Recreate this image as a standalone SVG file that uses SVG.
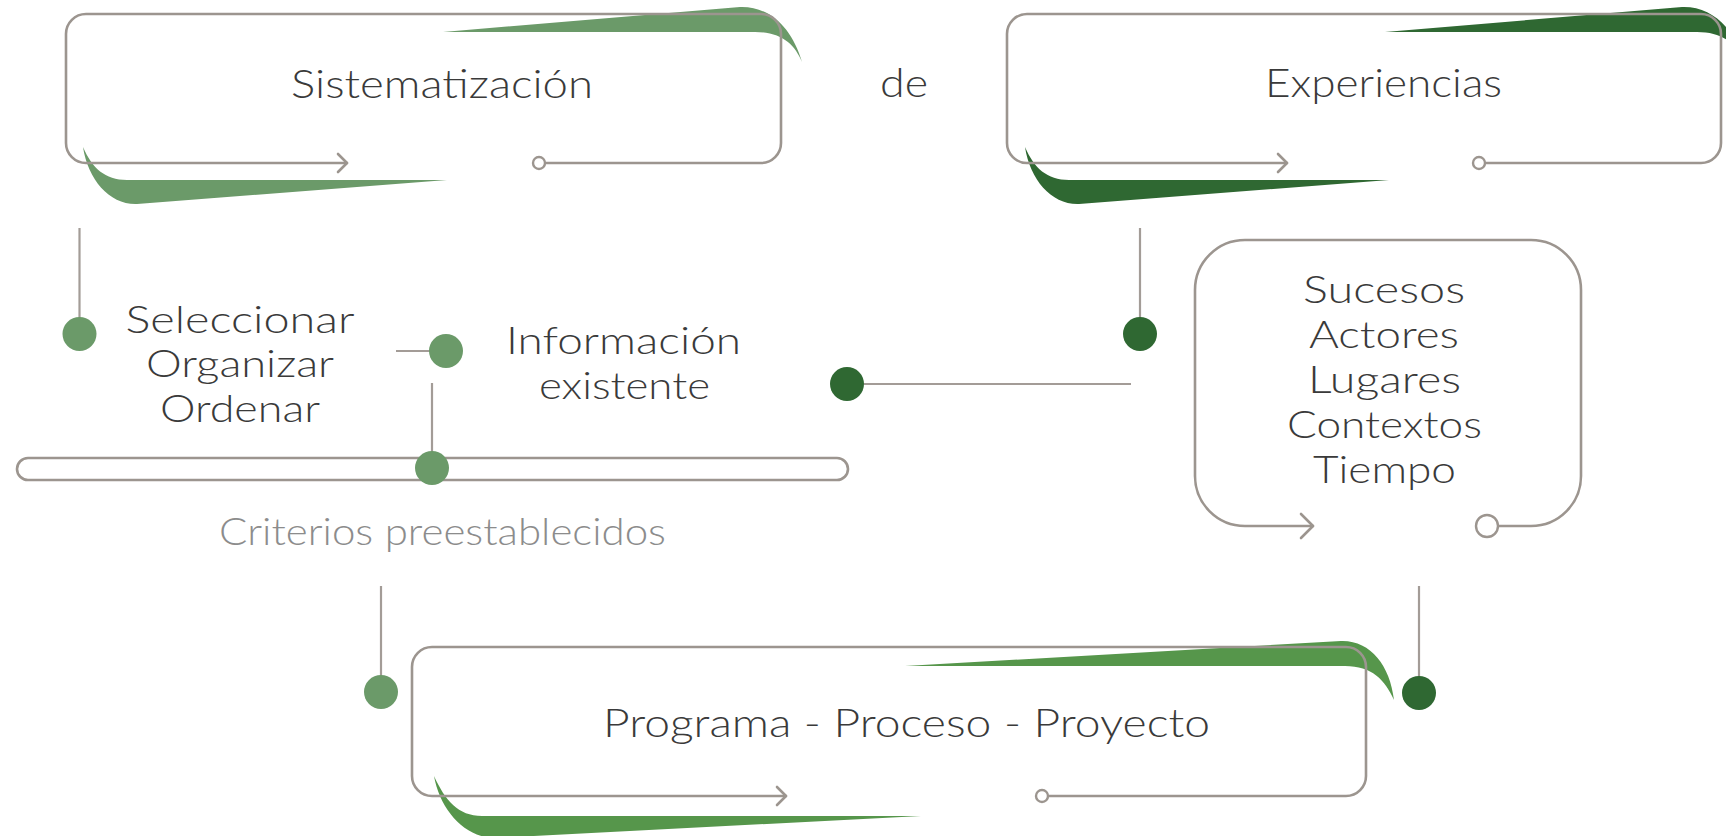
<svg xmlns="http://www.w3.org/2000/svg" width="1726" height="836" viewBox="0 0 1726 836">
<style>
.bg{fill:#ffffff}
.outline{fill:none;stroke:#9c958f;stroke-width:2.6;stroke-linecap:round;stroke-linejoin:round}
.ring{fill:#ffffff;stroke:#9c958f;stroke-width:2.4}
.conn{fill:none;stroke:#a39c97;stroke-width:2.2}
.sage{fill:#6b9a69}
.dark{fill:#2f6832}
.bright{fill:#56964b}
.t{font-family:Lato,Roboto,"Noto Sans","Liberation Sans",sans-serif;font-weight:300;fill:#3a3a3a;text-anchor:middle}
.big{font-size:39px}
.mid{font-size:37px}
.light{fill:#8c8c8c}
</style>
<rect class="bg" x="0" y="0" width="1726" height="836"/>

<g id="node-sistematizacion">
  <path class="sage" d="M443,32 L740,7 C770,6 792,28 802,62 C795,45 782,32 755,32 Z"/>
  <path class="sage" d="M447,180 L137,204 C110,205 88,180 83,147 C92,168 105,180 127,180 Z"/>
  <path class="outline" d="M347,163 H86 A20,20 0 0 1 66,143 V34 A20,20 0 0 1 86,14 H761 A20,20 0 0 1 781,34 V143 A20,20 0 0 1 761,163 H545.5"/>
  <path class="outline" d="M338,154 L347,163 L338,172"/>
  <circle class="ring" cx="539" cy="163" r="6"/>
  <text class="t big" x="442" y="98" textLength="302" lengthAdjust="spacingAndGlyphs">Sistematización</text>
</g>

<g id="node-de">
  <text class="t big" x="904" y="97" textLength="48" lengthAdjust="spacingAndGlyphs">de</text>
</g>

<g id="node-experiencias">
  <path class="dark" d="M1385,32 L1682,7 C1712,6 1734,28 1744,62 C1737,45 1724,32 1697,32 Z"/>
  <path class="dark" d="M1389,180 L1079,204 C1052,205 1030,180 1025,147 C1034,168 1047,180 1069,180 Z"/>
  <path class="outline" d="M1287,163 H1027 A20,20 0 0 1 1007,143 V34 A20,20 0 0 1 1027,14 H1701 A20,20 0 0 1 1721,34 V143 A20,20 0 0 1 1701,163 H1485.5"/>
  <path class="outline" d="M1278,154 L1287,163 L1278,172"/>
  <circle class="ring" cx="1479" cy="163" r="6"/>
  <text class="t big" x="1383.5" y="97" textLength="237" lengthAdjust="spacingAndGlyphs">Experiencias</text>
</g>

<g id="node-acciones">
  <text class="t mid" x="240" y="333" textLength="229" lengthAdjust="spacingAndGlyphs">Seleccionar</text>
  <text class="t mid" x="240" y="377" textLength="188" lengthAdjust="spacingAndGlyphs">Organizar</text>
  <text class="t mid" x="240" y="422" textLength="160" lengthAdjust="spacingAndGlyphs">Ordenar</text>
</g>

<g id="node-informacion">
  <text class="t mid" x="623.5" y="354" textLength="235" lengthAdjust="spacingAndGlyphs">Información</text>
  <text class="t mid" x="624.5" y="399" textLength="171" lengthAdjust="spacingAndGlyphs">existente</text>
</g>

<g id="node-criterios">
  <rect class="outline" x="17" y="458" width="831" height="22" rx="11" ry="11"/>
  <text class="t mid light" x="442.5" y="545" textLength="447" lengthAdjust="spacingAndGlyphs">Criterios preestablecidos</text>
</g>

<g id="node-elementos">
  <path class="outline" d="M1313,526 H1245 A50,50 0 0 1 1195,476 V290 A50,50 0 0 1 1245,240 H1531 A50,50 0 0 1 1581,290 V476 A50,50 0 0 1 1531,526 H1498"/>
  <path class="outline" d="M1301,514 L1313,526 L1301,538"/>
  <circle class="ring" cx="1487" cy="526" r="11"/>
  <text class="t mid" x="1384" y="303" textLength="162" lengthAdjust="spacingAndGlyphs">Sucesos</text>
  <text class="t mid" x="1384" y="348" textLength="150" lengthAdjust="spacingAndGlyphs">Actores</text>
  <text class="t mid" x="1384.5" y="393" textLength="153" lengthAdjust="spacingAndGlyphs">Lugares</text>
  <text class="t mid" x="1384.5" y="438" textLength="195" lengthAdjust="spacingAndGlyphs">Contextos</text>
  <text class="t mid" x="1384.5" y="483" textLength="143" lengthAdjust="spacingAndGlyphs">Tiempo</text>
</g>

<g id="node-programa">
  <path class="bright" d="M905,666 L1341,641 C1370,640 1390,665 1394,700 C1385,680 1372,666 1345,666 Z"/>
  <path class="bright" d="M921,816 L495,838 C465,838 440,810 434,776 C445,800 458,816 482,816 Z"/>
  <path class="outline" d="M786,796 H432 A20,20 0 0 1 412,776 V667 A20,20 0 0 1 432,647 H1346 A20,20 0 0 1 1366,667 V776 A20,20 0 0 1 1346,796 H1048.5"/>
  <path class="outline" d="M777,787 L786,796 L777,805"/>
  <circle class="ring" cx="1042" cy="796" r="6"/>
  <text class="t big" x="906.5" y="737" textLength="607" lengthAdjust="spacingAndGlyphs">Programa - Proceso - Proyecto</text>
</g>

<g id="connectors">
  <line class="conn" x1="79.5" y1="228" x2="79.5" y2="320"/>
  <line class="conn" x1="396" y1="351" x2="430" y2="351"/>
  <line class="conn" x1="432" y1="383" x2="432" y2="455"/>
  <line class="conn" x1="864" y1="384" x2="1131" y2="384"/>
  <line class="conn" x1="1140" y1="228" x2="1140" y2="320"/>
  <line class="conn" x1="381" y1="586" x2="381" y2="676"/>
  <line class="conn" x1="1419" y1="586" x2="1419" y2="677"/>
  <circle class="sage" cx="79.5" cy="334" r="17"/>
  <circle class="sage" cx="446" cy="351" r="17"/>
  <circle class="sage" cx="432" cy="468" r="17"/>
  <circle class="dark" cx="847" cy="384" r="17"/>
  <circle class="dark" cx="1140" cy="334" r="17"/>
  <circle class="sage" cx="381" cy="692" r="17"/>
  <circle class="dark" cx="1419" cy="693" r="17"/>
</g>
</svg>
